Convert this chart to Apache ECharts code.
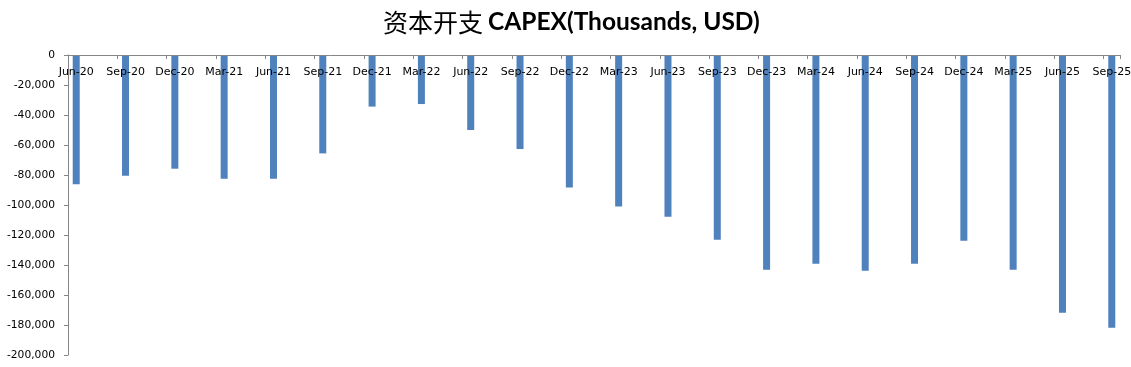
<!DOCTYPE html>
<html>
<head>
<meta charset="utf-8">
<script src="https://cdn.jsdelivr.net/npm/echarts@6/dist/echarts.min.js"></script>
<style>
  html, body { margin: 0; padding: 0; background: #ffffff; }
  #chart { width: 1131px; height: 367px; }
</style>
</head>
<body>
<div id="chart"></div>
<script>
const titleCn = '资本开支';
const titleEn = 'CAPEX(Thousands, USD)';
const quarters = ['Jun-20','Sep-20','Dec-20','Mar-21','Jun-21','Sep-21','Dec-21','Mar-22','Jun-22','Sep-22','Dec-22',
                  'Mar-23','Jun-23','Sep-23','Dec-23','Mar-24','Jun-24','Sep-24','Dec-24','Mar-25','Jun-25','Sep-25'];
const capex = [-86200, -80500, -75800, -82500, -82500, -65600, -34400, -32700, -50000, -62700, -88400,
               -101000, -107800, -123100, -143100, -139100, -143800, -139100, -123800, -143100, -171800, -181800];
const yMin = -200000;
const yMax = 0;
const yStep = 20000;

// Excel date axis: one slot per month, data every third month
const months = [];
const monthValues = [];
quarters.forEach((q, i) => {
  months.push(q);
  monthValues.push(capex[i]);
  if (i < quarters.length - 1) {
    months.push(q + ' +1', q + ' +2');
    monthValues.push(null, null);
  }
});

const chart = echarts.init(document.getElementById('chart'), null, { renderer: 'canvas' });
chart.setOption({
  backgroundColor: '#ffffff',
  animation: false,
  title: {
    left: 378,
    top: 5,
    text: '{cn|' + titleCn + '} {en|' + titleEn + '}',
    textStyle: {
      rich: {
        cn: { fontFamily: 'Noto Sans CJK SC', fontSize: 25, fontWeight: 'normal', color: '#000' },
        en: { fontFamily: 'Lato', fontSize: 24.5, fontWeight: 'bold', color: '#000' }
      }
    }
  },
  grid: { left: 68, top: 55, height: 300, right: 11, outerBoundsMode: 'none', containLabel: false },
  xAxis: {
    type: 'category',
    position: 'top',
    z: 5,
    data: months,
    boundaryGap: true,
    axisLine: { onZero: false, lineStyle: { color: '#868686', width: 1 } },
    axisTick: { show: true, inside: true, interval: 2, length: 4, lineStyle: { color: '#868686' } },
    axisLabel: {
      inside: true,
      interval: 2,
      margin: 12,
      fontFamily: 'DejaVu Sans',
      fontSize: 11,
      color: '#000'
    },
    splitLine: { show: false }
  },
  yAxis: {
    type: 'value',
    min: yMin,
    max: yMax,
    interval: yStep,
    axisLine: { show: true, lineStyle: { color: '#868686', width: 1 } },
    axisTick: { show: true, length: 4, lineStyle: { color: '#868686' } },
    axisLabel: {
      margin: 13,
      fontFamily: 'DejaVu Sans',
      fontSize: 10.7,
      color: '#000',
      formatter: v => v.toLocaleString('en-US')
    },
    splitLine: { show: false }
  },
  series: [{
    type: 'bar',
    data: monthValues,
    barWidth: 7,
    z: 2,
    itemStyle: { color: '#4F81BD' }
  }]
});
</script>
</body>
</html>
